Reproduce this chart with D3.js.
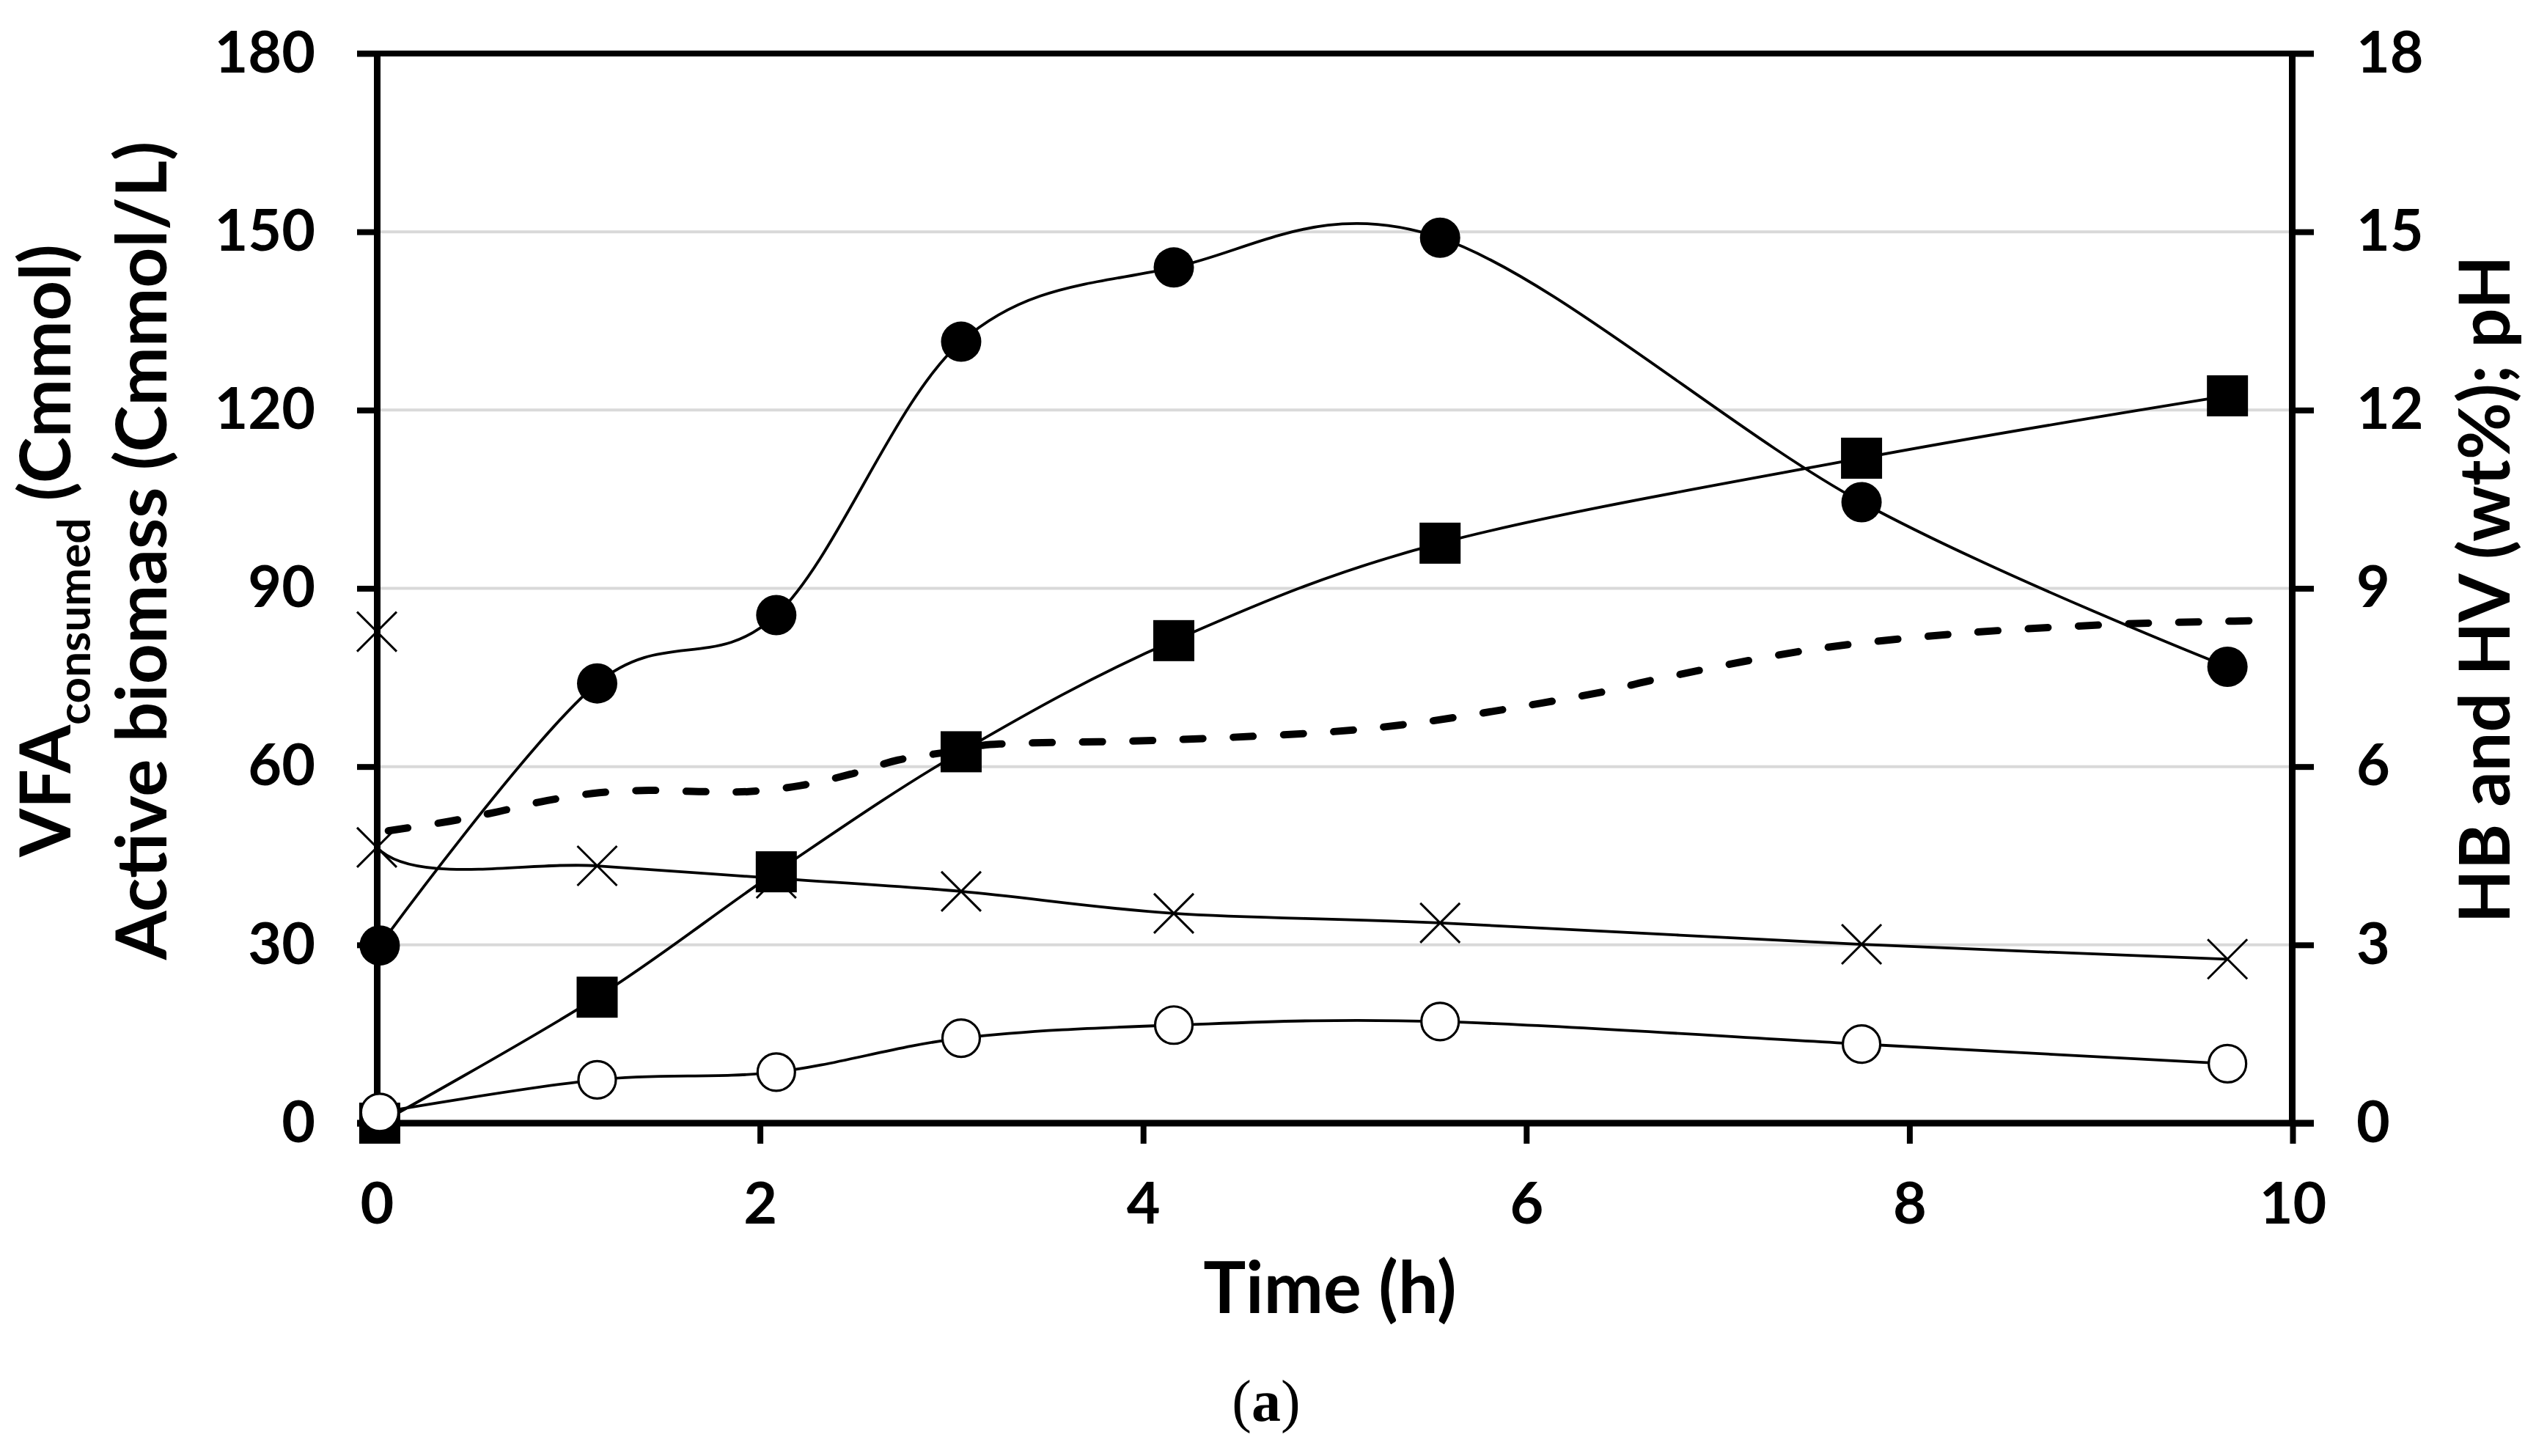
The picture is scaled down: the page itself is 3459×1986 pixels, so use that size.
<!DOCTYPE html>
<html><head><meta charset="utf-8">
<script src="https://cdn.jsdelivr.net/npm/d3@7/dist/d3.min.js"></script>
<style>
body{margin:0;background:#fff}
text.sans{font-family:Lato,"Open Sans",sans-serif;font-weight:700;fill:#000}
</style>
</head><body>
<svg id="c" width="3459" height="1986" xmlns="http://www.w3.org/2000/svg"></svg>
<script>
// ---- data ----
const times = [0.015, 1.15, 2.085, 3.05, 4.16, 5.55, 7.75, 9.66];
const vfaConsumed = [29.9, 74.0, 85.5, 131.5, 144.0, 149.0, 104.5, 76.8];      // filled circles, left axis
const activeBiomass = [0, 21.2, 42.3, 62.5, 81.2, 97.6, 111.9, 122.4];        // filled squares, left axis
const hvWt = [0.18, 0.73, 0.86, 1.43, 1.65, 1.71, 1.33, 1.0];                  // open circles, right axis
const hbTimes = [0, 0, 1.15, 2.085, 3.05, 4.16, 5.55, 7.75, 9.66];
const hbWt = [8.27, 4.64, 4.33, 4.12, 3.90, 3.53, 3.37, 3.01, 2.76];           // crosses, right axis
const phTimes = [0.06, 0.38, 0.63, 0.89, 1.16, 1.42, 1.68, 1.94, 2.21, 2.47, 2.72, 2.99, 3.25, 4.05, 4.86, 5.37, 5.9, 6.42, 6.68, 7.47, 8.26, 9.04, 9.58, 9.91];
const phValues = [4.92, 5.08, 5.24, 5.43, 5.56, 5.60, 5.58, 5.58, 5.68, 5.87, 6.11, 6.25, 6.38, 6.44, 6.56, 6.71, 6.97, 7.27, 7.47, 7.96, 8.24, 8.39, 8.44, 8.46]; // dashed, right axis
const xTicks = [0, 2, 4, 6, 8, 10];
const yLeftTicks = [0, 30, 60, 90, 120, 150, 180];
const yRightTicks = [0, 3, 6, 9, 12, 15, 18];

const svg = d3.select("#c");
svg.append("rect").attr("width", 3459).attr("height", 1986).attr("fill", "#fff");

const L = 514, R = 3127, T = 73, B = 1532;
const x = d3.scaleLinear([0, 10], [L, R]);
const yL = d3.scaleLinear([0, 180], [B, T]);
const yR = d3.scaleLinear([0, 18], [B, T]);

// gridlines
svg.append("g").selectAll("line").data(yLeftTicks.filter(v => v > 0 && v < 180)).join("line")
  .attr("x1", L).attr("x2", R).attr("y1", d => yL(d)).attr("y2", d => yL(d))
  .attr("stroke", "#d9d9d9").attr("stroke-width", 4);

// axes
const fs = 79;
const gl = svg.append("g").attr("transform", `translate(${L},0)`)
  .call(d3.axisLeft(yL).tickValues(yLeftTicks).tickSize(27).tickSizeOuter(0).tickPadding(57));
const gr = svg.append("g").attr("transform", `translate(${R - 1},0)`)
  .call(d3.axisRight(yR).tickValues(yRightTicks).tickSize(30).tickSizeOuter(0).tickPadding(58));
const gb = svg.append("g").attr("transform", `translate(0,${B})`)
  .call(d3.axisBottom(x).tickValues(xTicks).tickSize(28).tickSizeOuter(0).tickPadding(53));
[gl, gr, gb].forEach(g => {
  g.selectAll("path.domain").attr("stroke", "#000").attr("stroke-width", 9);
  g.selectAll(".tick line").attr("stroke", "#000").attr("stroke-width", 8);
  g.selectAll(".tick text").attr("class", "sans").style("font-family", "Lato").style("font-weight", 700)
    .style("font-size", fs + "px").attr("fill", "#000");
});
gb.selectAll("path.domain").remove();
// horizontal frame lines (top and bottom) spanning tick zones
svg.append("line").attr("x1", L - 27).attr("x2", R + 29).attr("y1", T).attr("y2", T)
  .attr("stroke", "#000").attr("stroke-width", 8);
svg.append("line").attr("x1", L - 27).attr("x2", R + 29).attr("y1", B).attr("y2", B)
  .attr("stroke", "#000").attr("stroke-width", 9);

// clip for series lines
svg.append("clipPath").attr("id", "plot").append("rect")
  .attr("x", L).attr("y", T).attr("width", R - L).attr("height", B - T + 20);

const curve = d3.curveCatmullRom.alpha(0);
const lines = svg.append("g").attr("clip-path", "url(#plot)");
function drawLine(xs, ys, yScale, dashed) {
  const pts = xs.map((t, i) => [x(t), yScale(ys[i])]);
  const p = lines.append("path").datum(pts)
    .attr("d", d3.line().curve(curve))
    .attr("fill", "none").attr("stroke", "#000");
  if (dashed) p.attr("stroke-width", 10).attr("stroke-dasharray", "27,41.5").attr("stroke-linecap", "round");
  else p.attr("stroke-width", 3.8);
}
drawLine(phTimes, phValues, yR, true);
drawLine(times, vfaConsumed, yL, false);
drawLine(times, activeBiomass, yL, false);
drawLine(times, hvWt, yR, false);
drawLine(hbTimes, hbWt, yR, false);

// markers
const mk = svg.append("g");
mk.selectAll("rect.sq").data(times).join("rect").attr("class", "sq")
  .attr("x", (d) => x(d) - 28).attr("y", (d, i) => yL(activeBiomass[i]) - 28)
  .attr("width", 56).attr("height", 56).attr("fill", "#000");
mk.selectAll("circle.vfa").data(times).join("circle").attr("class", "vfa")
  .attr("cx", d => x(d)).attr("cy", (d, i) => yL(vfaConsumed[i])).attr("r", 27.5).attr("fill", "#000");
mk.selectAll("circle.hv").data(times).join("circle").attr("class", "hv")
  .attr("cx", d => x(d)).attr("cy", (d, i) => yR(hvWt[i])).attr("r", 25.5)
  .attr("fill", "#fff").attr("stroke", "#000").attr("stroke-width", 3.2);
const s = 27;
mk.selectAll("path.hb").data(hbTimes).join("path").attr("class", "hb")
  .attr("d", (d, i) => {
    const cx = x(d), cy = yR(hbWt[i]);
    return `M${cx - s},${cy - s}L${cx + s},${cy + s}M${cx - s},${cy + s}L${cx + s},${cy - s}`;
  })
  .attr("stroke", "#000").attr("stroke-width", 3).attr("fill", "none");

// titles
svg.append("text").attr("class", "sans").attr("x", 1814).attr("y", 1791).attr("text-anchor", "middle")
  .style("font-size", "97px").text("Time (h)");

const t1 = svg.append("text").attr("class", "sans").attr("transform", "translate(96,751) rotate(-90)")
  .attr("text-anchor", "middle").style("font-size", "95px");
t1.append("tspan").text("VFA");
t1.append("tspan").attr("dy", 27).style("font-size", "62px").text("consumed");
t1.append("tspan").attr("dy", -27).text(" (Cmmol)");

svg.append("text").attr("class", "sans").attr("transform", "translate(227,751) rotate(-90)")
  .attr("text-anchor", "middle").style("font-size", "96px").text("Active biomass (Cmmol/L)");

svg.append("text").attr("class", "sans").attr("transform", "translate(3423,804) rotate(-90)")
  .attr("text-anchor", "middle").style("font-size", "95px").text("HB and HV (wt%); pH");

const ta = svg.append("text").attr("x", 1727).attr("y", 1938).attr("text-anchor", "middle")
  .attr("fill", "#000")
  .style("font-family", "'Liberation Serif', 'DejaVu Serif', serif")
  .style("font-size", "80px");
ta.append("tspan").style("font-weight", 400).text("(");
ta.append("tspan").style("font-weight", 700).text("a");
ta.append("tspan").style("font-weight", 400).text(")");
</script>
</body></html>
